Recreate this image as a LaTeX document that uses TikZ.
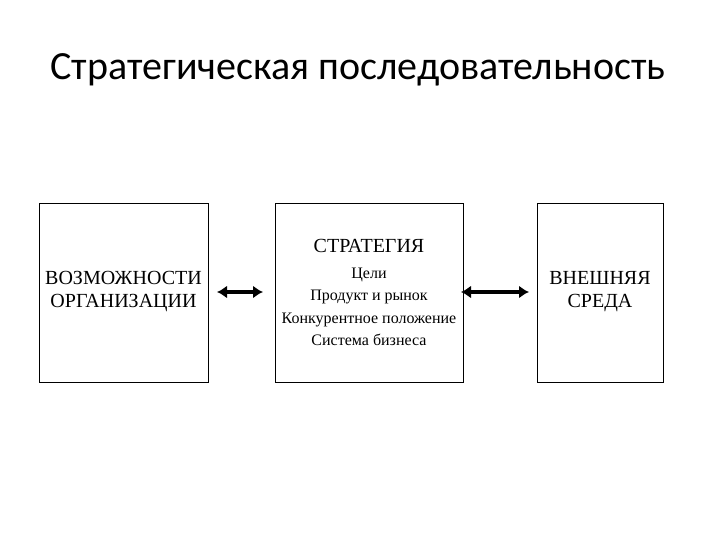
\documentclass[tikz,border=0pt]{standalone}
\usepackage{fontspec}
\setmainfont{Liberation Serif}
\newfontfamily\titlefont{Carlito}
\usetikzlibrary{arrows.meta}
\begin{document}
\begin{tikzpicture}[x=1pt,y=-1pt,
  box/.style={draw,line width=0.8pt},
  lbl/.style={align=center,font=\fontsize{20}{23}\selectfont},
  small/.style={align=center,font=\fontsize{16}{22.5}\selectfont},
  dbl/.style={{Latex[length=10pt,width=13pt]}-{Latex[length=10pt,width=13pt]},line width=4pt}]
\useasboundingbox[fill=white] (0,0) rectangle (720,540);
\node[font=\titlefont\fontsize{40}{46}\selectfont] (title) at (358,70) {Стратегическая последовательность};
\draw[box] (39,203) rectangle (208,382);
\draw[box] (275,203) rectangle (463,382);
\draw[box] (537,203) rectangle (663,382);
\node[lbl] (b1) at (123.5,292) {ВОЗМОЖНОСТИ\\ОРГАНИЗАЦИИ};
\node[lbl] (s) at (369,246) {СТРАТЕГИЯ};
\node[small] (s2) at (369,307) {Цели\\Продукт и рынок\\Конкурентное положение\\Система бизнеса};
\node[lbl] (b3) at (600,292) {ВНЕШНЯЯ\\СРЕДА};
\coordinate (a1) at (217,292); \coordinate (a2) at (263,292);
\coordinate (a3) at (461,292); \coordinate (a4) at (529,292);
\draw[dbl] (a1) -- (a2);
\draw[dbl] (a3) -- (a4);
\end{tikzpicture}
\end{document}
